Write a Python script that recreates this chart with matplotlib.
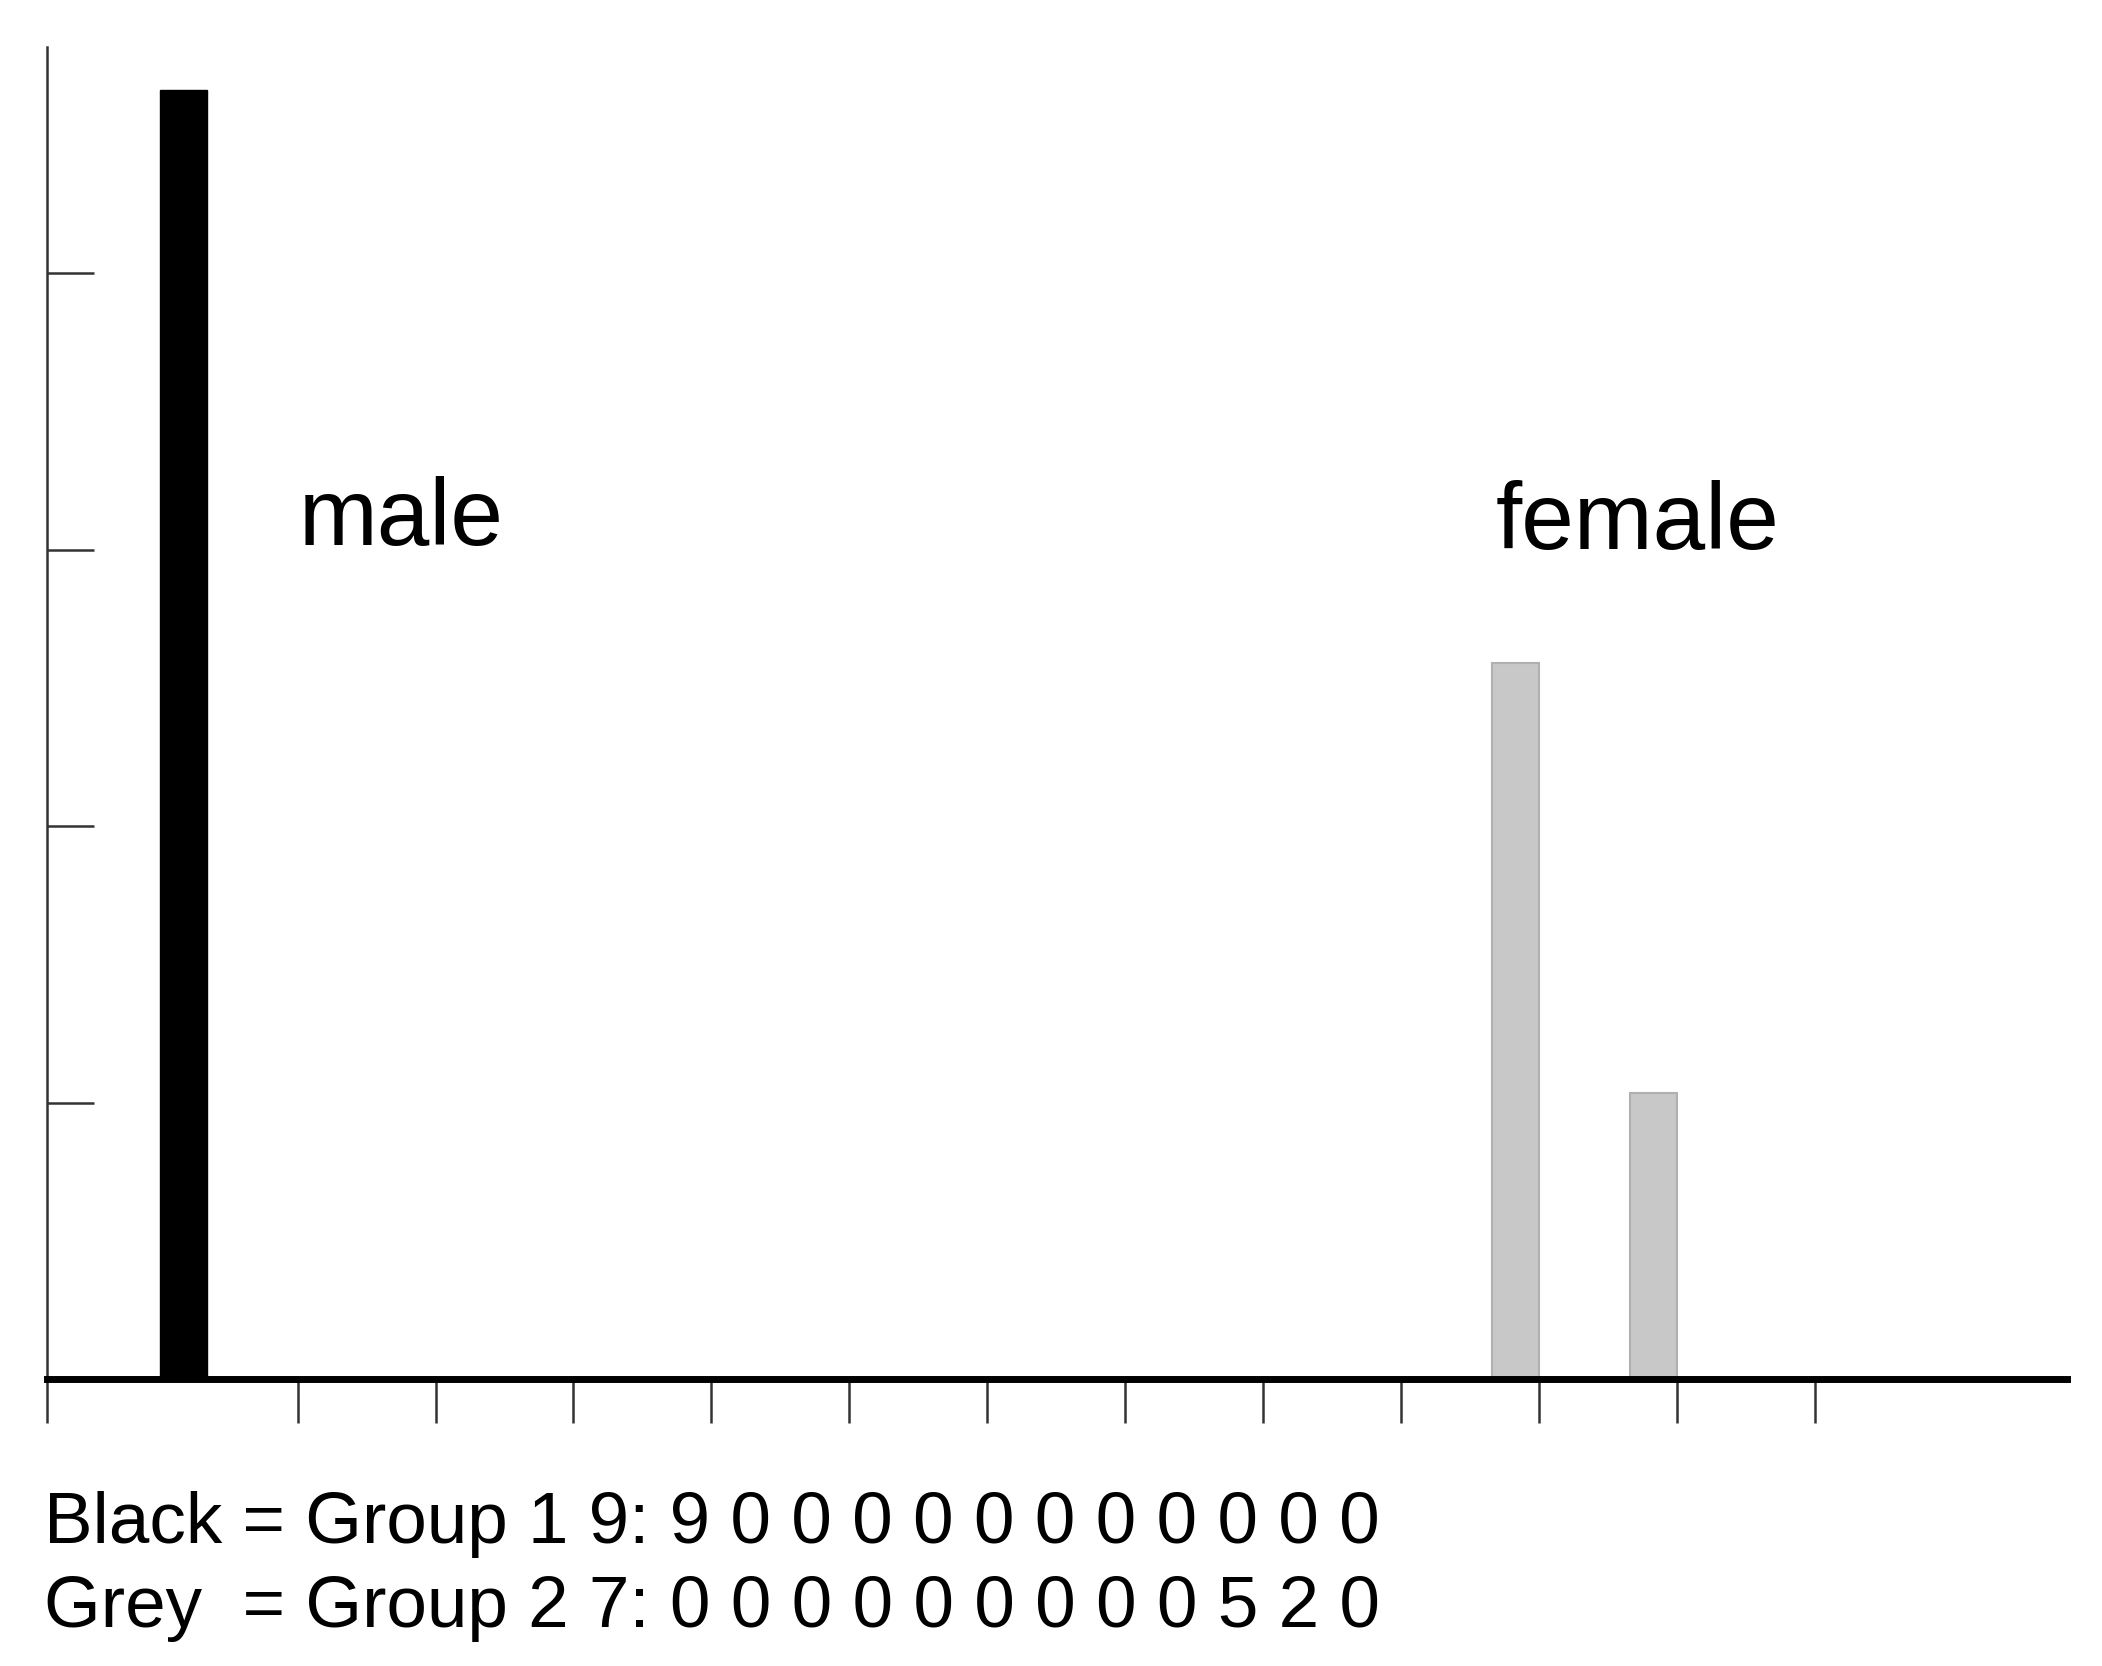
import matplotlib
matplotlib.use("Agg")
import matplotlib.pyplot as plt

# counts per bin
group1 = [9, 0, 0, 0, 0, 0, 0, 0, 0, 0, 0, 0]
group2 = [0, 0, 0, 0, 0, 0, 0, 0, 0, 5, 2, 0]
bar_w = 0.34
W, H = 1560.0, 1237.0  # reference layout units

plt.rcParams["font.family"] = ["Liberation Sans", "DejaVu Sans"]
fig = plt.figure(figsize=(21.02, 16.66), dpi=100)
ax = fig.add_axes([35 / W, 1 - 1024 / H, (1534 - 35) / W, (1024 - 35) / H])

for i, v in enumerate(group1):
    if v:
        ax.bar(i, v, width=bar_w, align="edge", color="black", edgecolor="black")
for i, v in enumerate(group2, start=1):
    if v:
        ax.bar(i - bar_w, v, width=bar_w, align="edge", color="#c8c8c8", edgecolor="#b0b0b0", linewidth=1.5)

ax.set_xlim(-0.816, 13.83)
ax.set_ylim(0, 9.3)
ax.set_xticks([-0.816] + list(range(1, 13)))
ax.set_xticklabels([])
ax.set_yticks([1.93, 3.86, 5.79, 7.72])
ax.set_yticklabels([])
ax.tick_params(axis="x", direction="out", length=32, width=1.8, color="#333333")
ax.tick_params(axis="y", direction="in", length=34, width=1.8, color="#333333")
for s in ("top", "right"):
    ax.spines[s].set_visible(False)
ax.spines["bottom"].set_linewidth(5)
ax.spines["left"].set_linewidth(1.8)
ax.spines["left"].set_color("#333333")

fig.text(222 / W, 1 - 405 / H, "male", fontsize=68, va="baseline")
fig.text(1110 / W, 1 - 408 / H, "female", fontsize=68, va="baseline")

line1 = "Black = Group 1 9: " + " ".join(str(v) for v in group1)
line2 = "Grey  = Group 2 7: " + " ".join(str(v) for v in group2)
fig.text(33 / W, 1 - 1146 / H, line1, fontsize=52.5, va="baseline")
fig.text(33 / W, 1 - 1208 / H, line2, fontsize=52.5, va="baseline")

fig.savefig("out.png", dpi=100)
